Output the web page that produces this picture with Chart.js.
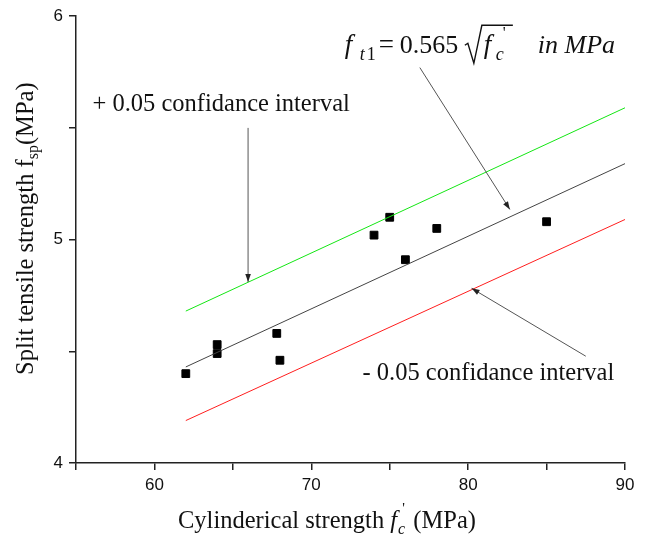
<!DOCTYPE html>
<html>
<head>
<meta charset="utf-8">
<script src="https://cdn.jsdelivr.net/npm/chart.js@4"></script>
<style>
  html, body { margin: 0; padding: 0; background: #fff; }
</style>
</head>
<body>
<canvas id="chart" width="648" height="539"></canvas>
<script>
// measured points
const fcValues = [62, 64, 64, 67.8, 68, 74, 75, 76, 78, 85];
const fspValues = [4.40, 4.53, 4.49, 4.58, 4.46, 5.02, 5.10, 4.91, 5.05, 5.08];

// fitted line and +/- confidence bands (end points)
const lineX = [62, 90];
const fitY = [4.43, 5.34];
const upperY = [4.68, 5.59];
const lowerY = [4.19, 5.09];

// annotation arrows [x0, y0, x1(tip), y1(tip)] in data units
const arrowUpper = [65.97, 5.50, 65.97, 4.81];
const arrowFit = [76.92, 5.77, 82.66, 5.135];
const arrowLower = [87.5, 4.478, 80.22, 4.782];

// annotation anchors [x, y] in data units (left, baseline)
const upperLabelPos = [56.05, 5.575];
const lowerLabelPos = [73.27, 4.372];
const formulaPos = [72.14, 5.834];

const SERIF = '"Liberation Serif", "Times New Roman", serif';
const SANS = '"Liberation Sans", Arial, sans-serif';
const LABEL_SIZE = 24.5;

function toPoints(xs, ys) {
  return xs.map((x, i) => ({ x: x, y: ys[i] }));
}

function drawRuns(ctx, runs, x, y) {
  runs.forEach((r) => {
    ctx.font = r.font;
    ctx.fillText(r.t, x + (r.dx || 0), y + (r.dy || 0));
    x += (r.dx || 0) + ctx.measureText(r.t).width + (r.after || 0);
  });
  return x;
}

function arrow(ctx, x0, y0, x1, y1) {
  ctx.beginPath();
  ctx.moveTo(x0, y0);
  ctx.lineTo(x1, y1);
  ctx.stroke();
  const a = Math.atan2(y1 - y0, x1 - x0);
  const len = 8, w = 2.8;
  ctx.beginPath();
  ctx.moveTo(x1, y1);
  ctx.lineTo(x1 - len * Math.cos(a) + w * Math.sin(a), y1 - len * Math.sin(a) - w * Math.cos(a));
  ctx.lineTo(x1 - len * Math.cos(a) - w * Math.sin(a), y1 - len * Math.sin(a) + w * Math.cos(a));
  ctx.closePath();
  ctx.fill();
}

const annotations = {
  id: "annotations",
  afterDatasetsDraw: (chart) => {
    const { ctx } = chart;
    const sx = chart.scales.x, sy = chart.scales.y;
    const px = (v) => sx.getPixelForValue(v);
    const py = (v) => sy.getPixelForValue(v);

    ctx.save();
    ctx.textBaseline = "alphabetic";
    ctx.textAlign = "left";

    // arrows
    ctx.strokeStyle = "#555";
    ctx.fillStyle = "#222";
    ctx.lineWidth = 1;
    [arrowUpper, arrowFit, arrowLower].forEach((a) => {
      arrow(ctx, px(a[0]), py(a[1]), px(a[2]), py(a[3]));
    });

    ctx.fillStyle = "#111";
    // band labels
    ctx.font = LABEL_SIZE + "px " + SERIF;
    ctx.fillText("+ 0.05 confidance interval", px(upperLabelPos[0]), py(upperLabelPos[1]));
    ctx.fillText("- 0.05 confidance interval", px(lowerLabelPos[0]), py(lowerLabelPos[1]));

    // formula  f_t1 = 0.565 sqrt(f_c')  in MPa
    const fx = px(formulaPos[0]), fy = py(formulaPos[1]);
    ctx.font = "italic 27px " + SERIF;
    ctx.fillText("f", fx, fy);
    ctx.font = "italic 18px " + SERIF;
    ctx.fillText("t", fx + 15, fy + 7);
    ctx.font = "18px " + SERIF;
    ctx.fillText("1", fx + 22, fy + 7);
    ctx.font = "27px " + SERIF;
    ctx.fillText("=", fx + 34, fy);
    ctx.font = "26px " + SERIF;
    ctx.fillText("0.565", fx + 55, fy);
    const rootX = fx + 120;
    ctx.font = "italic 27px " + SERIF;
    ctx.fillText("f", fx + 139, fy);
    ctx.font = "italic 18px " + SERIF;
    ctx.fillText("c", fx + 151, fy + 7);
    ctx.font = "16px " + SERIF;
    ctx.fillText("'", fx + 158, fy - 15);
    ctx.beginPath();
    ctx.strokeStyle = "#111";
    ctx.lineWidth = 1.4;
    ctx.moveTo(rootX, fy - 8);
    ctx.lineTo(rootX + 3, fy - 10);
    ctx.lineTo(rootX + 9, fy + 10);
    ctx.lineTo(rootX + 17, fy - 28);
    ctx.lineTo(fx + 168, fy - 28);
    ctx.stroke();
    ctx.font = "italic 26px " + SERIF;
    ctx.fillText("in MPa", fx + 193, fy);

    // x axis title
    let tx = drawRuns(ctx, [
      { t: "Cylinderical strength ", font: LABEL_SIZE + "px " + SERIF },
      { t: "f", font: "italic " + LABEL_SIZE + "px " + SERIF, after: 1 },
      { t: "c", font: "italic 16px " + SERIF, dy: 6 }
    ], 178, 528);
    ctx.font = "15px " + SERIF;
    ctx.fillText("'", tx - 3, 528 - 15);
    ctx.font = LABEL_SIZE + "px " + SERIF;
    ctx.fillText(" (MPa)", tx + 2, 528);

    // y axis title
    ctx.translate(33, 375);
    ctx.rotate(-Math.PI / 2);
    drawRuns(ctx, [
      { t: "Split tensile strength f", font: LABEL_SIZE + "px " + SERIF },
      { t: "sp", font: "16px " + SERIF, dy: 5 },
      { t: "(MPa)", font: LABEL_SIZE + "px " + SERIF }
    ], 0, 0);
    ctx.restore();
  },
};

const ctx = document.getElementById("chart").getContext("2d");

const chart = new Chart(ctx, {
  type: "scatter",
  data: {
    datasets: [
      {
        label: "Fit",
        data: toPoints(lineX, fitY),
        showLine: true,
        borderColor: "#444",
        borderWidth: 1,
        pointRadius: 0,
      },
      {
        label: "+0.05",
        data: toPoints(lineX, upperY),
        showLine: true,
        borderColor: "rgb(20, 230, 20)",
        borderWidth: 1,
        pointRadius: 0,
      },
      {
        label: "-0.05",
        data: toPoints(lineX, lowerY),
        showLine: true,
        borderColor: "rgb(255, 30, 30)",
        borderWidth: 1,
        pointRadius: 0,
      },
      {
        label: "Test data",
        data: toPoints(fcValues, fspValues),
        pointStyle: "rect",
        pointRadius: 5.5,
        backgroundColor: "#000",
        borderColor: "#000",
        borderWidth: 1,
      },
    ],
  },
  options: {
    responsive: false,
    animation: false,
    layout: {
      padding: { left: 0, right: 23, top: 16, bottom: 0 },
    },
    plugins: {
      legend: { display: false },
      tooltip: { enabled: false },
    },
    scales: {
      x: {
        type: "linear",
        min: 55,
        max: 90,
        afterFit: (scale) => { scale.height = 76; },
        ticks: {
          stepSize: 5,
          autoSkip: false,
          maxRotation: 0,
          padding: 5,
          color: "#111",
          font: { family: SANS, size: 17 },
          callback: (v) => (v % 10 === 0 ? v : ""),
        },
        grid: {
          drawOnChartArea: false,
          tickLength: 7,
          color: "#222",
          lineWidth: 1.5,
        },
        border: { color: "#222", width: 1.5 },
      },
      y: {
        min: 4,
        max: 6,
        afterFit: (scale) => { scale.width = 76; },
        ticks: {
          stepSize: 0.5,
          autoSkip: false,
          padding: 6,
          color: "#111",
          font: { family: SANS, size: 17 },
          callback: (v) => (Number.isInteger(v) ? v : ""),
        },
        grid: {
          drawOnChartArea: false,
          tickLength: 7,
          color: "#222",
          lineWidth: 1.5,
        },
        border: { color: "#222", width: 1.5 },
      },
    },
  },
  plugins: [annotations],
});
</script>
</body>
</html>
